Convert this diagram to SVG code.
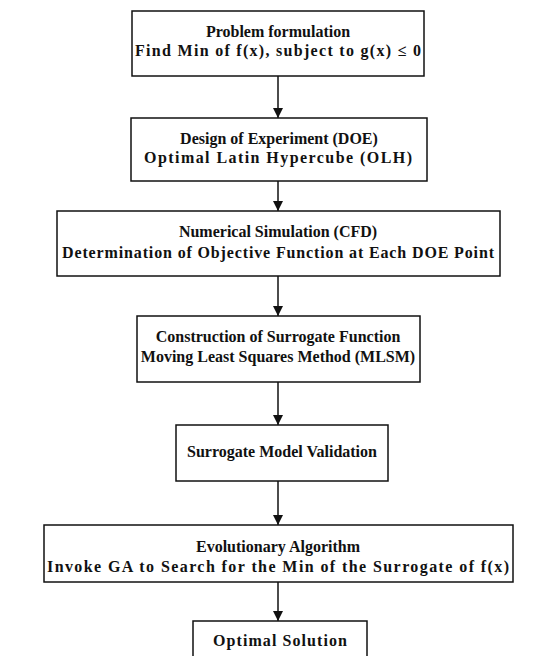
<svg xmlns="http://www.w3.org/2000/svg" width="556" height="656" viewBox="0 0 556 656">
<style>
.box{fill:#fff;stroke:#111;stroke-width:1.5}
.t{font-family:"Liberation Serif","Times New Roman",serif;font-weight:bold;font-size:16px;fill:#111;text-anchor:middle}
.c{stroke:#111;stroke-width:1.5;fill:none}
</style>
<defs>
<marker id="ah" viewBox="0 0 10 10" refX="10" refY="5" markerWidth="10" markerHeight="11" markerUnits="userSpaceOnUse" orient="auto">
<path d="M0,0 L10,5 L0,10 z" fill="#111"/>
</marker>
</defs>
<rect width="556" height="656" fill="#fff"/>
<g id="connectors">
<line class="c" x1="278" y1="76" x2="278" y2="118" marker-end="url(#ah)"/>
<line class="c" x1="278" y1="181" x2="278" y2="211" marker-end="url(#ah)"/>
<line class="c" x1="278" y1="276" x2="278" y2="316" marker-end="url(#ah)"/>
<line class="c" x1="278" y1="382" x2="278" y2="425" marker-end="url(#ah)"/>
<line class="c" x1="278" y1="481" x2="278" y2="525" marker-end="url(#ah)"/>
<line class="c" x1="278" y1="582" x2="278" y2="621" marker-end="url(#ah)"/>
</g>
<g id="n1">
<rect class="box" x="132" y="11" width="292" height="65"/>
<text class="t" x="278" y="37">Problem formulation</text>
<text class="t" x="278" y="56" textLength="286" lengthAdjust="spacing">Find Min of f(x), subject to g(x) ≤ 0</text>
</g>
<g id="n2">
<rect class="box" x="131" y="118" width="296" height="63"/>
<text class="t" x="279" y="144">Design of Experiment (DOE)</text>
<text class="t" x="278" y="163" textLength="268" lengthAdjust="spacing">Optimal Latin Hypercube (OLH)</text>
</g>
<g id="n3">
<rect class="box" x="57" y="211" width="443" height="65"/>
<text class="t" x="278" y="237">Numerical Simulation (CFD)</text>
<text class="t" x="278" y="258" textLength="432" lengthAdjust="spacing">Determination of Objective Function at Each DOE Point</text>
</g>
<g id="n4">
<rect class="box" x="137" y="316" width="283" height="66"/>
<text class="t" x="278" y="342">Construction of Surrogate Function</text>
<text class="t" x="278" y="362">Moving Least Squares Method (MLSM)</text>
</g>
<g id="n5">
<rect class="box" x="176" y="425" width="212" height="56"/>
<text class="t" x="282" y="457">Surrogate Model Validation</text>
</g>
<g id="n6">
<rect class="box" x="44" y="525" width="469" height="57"/>
<text class="t" x="278" y="552">Evolutionary Algorithm</text>
<text class="t" x="278" y="572" textLength="462" lengthAdjust="spacing">Invoke GA to Search for the Min of the Surrogate of f(x)</text>
</g>
<g id="n7">
<rect class="box" x="193" y="621" width="174" height="40"/>
<text class="t" x="280" y="646" textLength="134" lengthAdjust="spacing">Optimal Solution</text>
</g>
</svg>
